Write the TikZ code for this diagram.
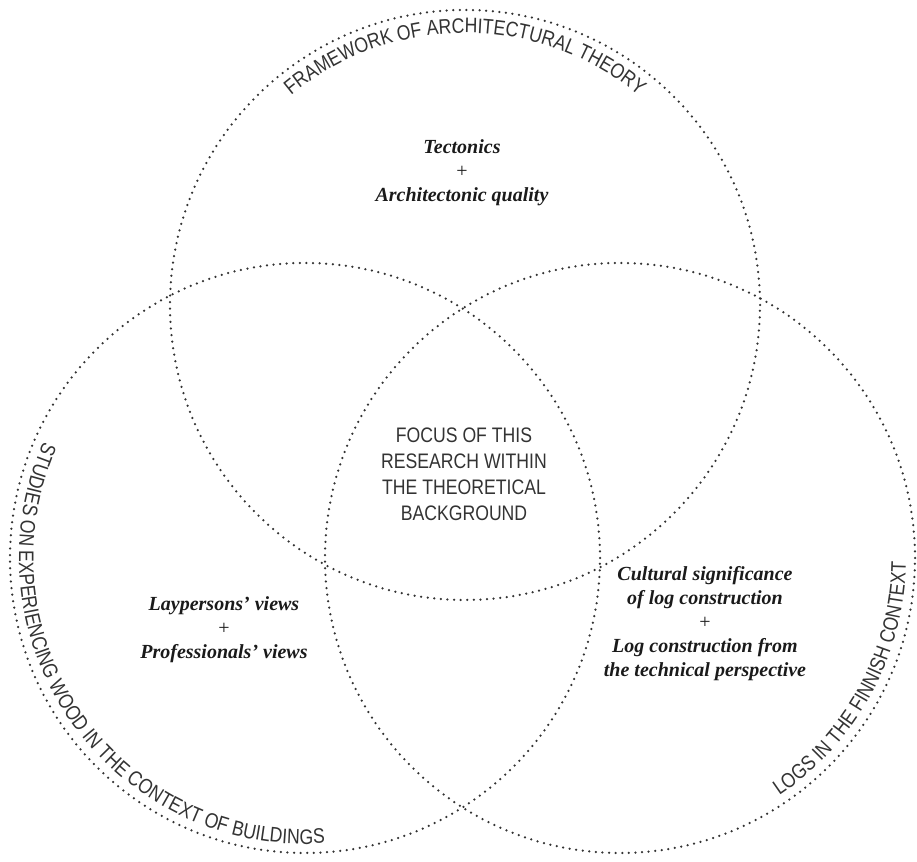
\documentclass[tikz,border=0pt]{standalone}
\usepackage{fontspec}
\setmainfont{Liberation Serif}
\newfontfamily\labelsans[FakeStretch=0.84]{Liberation Sans}
\usetikzlibrary{decorations.text}
\definecolor{dotgray}{HTML}{333333}
\definecolor{inkgray}{HTML}{333333}
\definecolor{inkdark}{HTML}{1A1A1A}
\tikzset{
  dotcircle/.style={draw=dotgray, line width=2.5pt, line cap=round, dash pattern=on 0pt off 6.6pt},
  arclabel/.style={decorate, decoration={text along path, text align=center, text color=inkgray,
      text={|\labelsans\fontsize{21}{25}\selectfont|#1}}},
  sanstext/.style={font=\labelsans\fontsize{21}{26}\selectfont, text=inkgray, align=center, inner sep=0pt},
  serifitext/.style={font=\fontsize{20}{24}\selectfont\bfseries\itshape, text=inkdark, align=center, inner sep=0pt},
}
\begin{document}
\begin{tikzpicture}[x=1pt,y=1pt]
  \useasboundingbox (0,0) rectangle (917,861);
  \coordinate (T) at (465,556);
  \coordinate (L) at (305,303);
  \coordinate (R) at (620,303);
  \draw[dotcircle] (T) circle[radius=295];
  \draw[dotcircle] (L) circle[radius=295];
  \draw[dotcircle] (R) circle[radius=295];
  \path[arclabel={FRAMEWORK OF ARCHITECTURAL THEORY}] ([shift={(150:272)}]T) arc[start angle=150, end angle=30, radius=272];
  \path[arclabel={STUDIES ON EXPERIENCING WOOD IN THE CONTEXT OF BUILDINGS}] ([shift={(141:286)}]L) arc[start angle=141, end angle=289, radius=286];
  \path[arclabel={LOGS IN THE FINNISH CONTEXT}] ([shift={(-72:286)}]R) arc[start angle=-72, end angle=15, radius=286];
  \node[serifitext] (theory) at (462,688) {Tectonics\\{\mdseries\upshape +}\\Architectonic quality};
  \node[sanstext] (focus) at (464,386.5) {FOCUS OF THIS\\RESEARCH WITHIN\\THE THEORETICAL\\BACKGROUND};
  \node[serifitext] (views) at (224,231) {Laypersons’ views\\{\mdseries\upshape +}\\Professionals’ views};
  \node[serifitext] (logs) at (705,237) {Cultural significance\\of log construction\\{\mdseries\upshape +}\\Log construction from\\the technical perspective};
\end{tikzpicture}
\end{document}
